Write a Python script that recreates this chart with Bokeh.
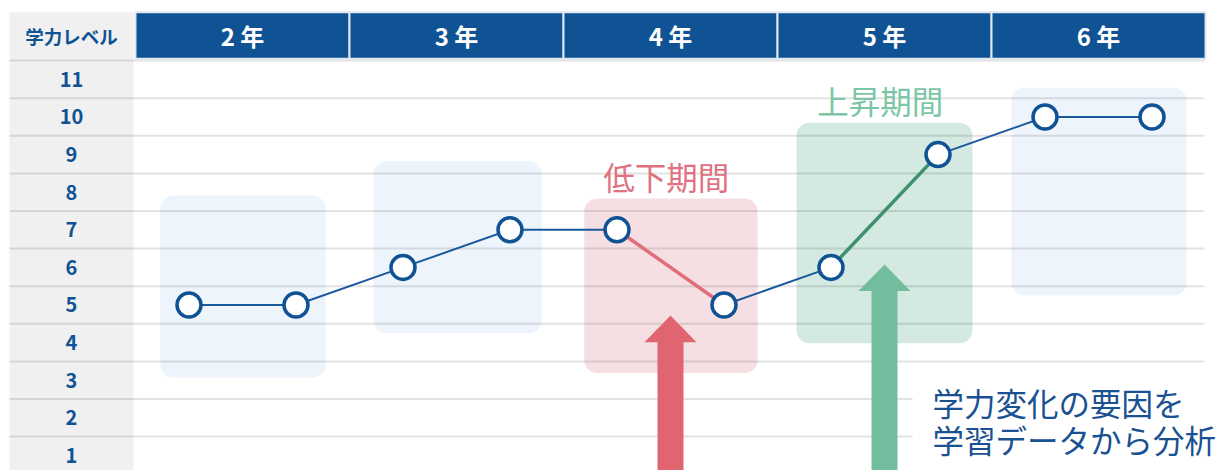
from bokeh.plotting import figure
from bokeh.models import Range1d, BoxAnnotation
from bokeh.core.properties import value
from bokeh.embed import file_html
from bokeh.resources import INLINE

# ---------------- data ----------------
grades = ["2 年", "3 年", "4 年", "5 年", "6 年"]
level_ticks = [1, 2, 3, 4, 5, 6, 7, 8, 9, 10, 11]
level_header = "学力レベル"
points_grade = ["2 年", "2 年", "3 年", "3 年", "4 年", "4 年", "5 年", "5 年", "6 年", "6 年"]
points_half = ["前期", "後期", "前期", "後期", "前期", "後期", "前期", "後期", "前期", "後期"]
points_level = [5, 5, 6, 7, 7, 5, 6, 9, 10, 10]
decline_grade = "4 年"
decline_label = "低下期間"
rise_grade = "5 年"
rise_label = "上昇期間"
note_lines = ["学力変化の要因を", "学習データから分析"]

# ---------------- layout / style ----------------
FONT = value("Noto Sans CJK JP")
BLUE = "#0f5395"
LINE_BLUE = "#1a5a9c"
PINK_BOX = "#f6dfe3"
GREEN_BOX = "#d3e9e2"
LIGHT_BOX = "#edf4fb"
PINK_ARROW = "#e06571"
GREEN_ARROW = "#72bd9e"
PINK_TEXT = "#e07280"
GREEN_TEXT = "#7cc5a5"
PINK_LINE = "#e06f7b"
GREEN_LINE = "#3f916d"

# box extents per grade (level units): bottom, top, half-width
box_bottom = [3.07, 4.25, 3.19, 3.98, 5.25]
box_top = [7.91, 8.82, 7.83, 9.85, 10.78]
box_half = [0.386, 0.393, 0.405, 0.411, 0.409]
box_shift = [0.002, 0.005, 0.002, 0.0, 0.002]

X0, X1 = -0.6308, 5.0794
Y0, Y1 = 0.5984, 13.0984
HEAD_BOTTOM, HEAD_TOP = 11.548, 12.787
COL_LEFT, COL_RIGHT = -0.5888, -0.0093
GRID_RIGHT = 4.995

p = figure(width=1222, height=470, x_range=Range1d(X0, X1), y_range=Range1d(Y0, Y1),
           output_backend="svg", toolbar_location=None, min_border=0,
           x_axis_location=None, y_axis_location=None)
p.grid.visible = False
p.outline_line_color = None
p.background_fill_color = "white"
p.border_fill_color = "white"

def gx(g):
    return grades.index(g)

px = [gx(g) + (0.25 if h == "前期" else 0.75) for g, h in zip(points_grade, points_half)]

# grade boxes (underlay)
for i, g in enumerate(grades):
    color = PINK_BOX if g == decline_grade else GREEN_BOX if g == rise_grade else LIGHT_BOX
    c = i + 0.5 + box_shift[i]
    p.add_layout(BoxAnnotation(left=c - box_half[i], right=c + box_half[i],
                               bottom=box_bottom[i], top=box_top[i],
                               fill_color=color, fill_alpha=1.0, line_color=None,
                               border_radius=13, level="underlay"))

# left gray column
p.quad(left=[COL_LEFT], right=[COL_RIGHT], bottom=[Y0 - 1], top=[HEAD_TOP],
       fill_color="#f0f0f0", line_color=None)

# grid lines between levels
grid_y = [l + 0.5 for l in level_ticks]
p.segment(x0=[COL_LEFT] * len(grid_y), x1=[GRID_RIGHT] * len(grid_y), y0=grid_y, y1=grid_y,
          line_color="black", line_alpha=0.11, line_width=2)

# level labels
p.text(x=[(COL_LEFT + COL_RIGHT) / 2] * len(level_ticks), y=level_ticks,
       text=[str(l) for l in level_ticks], text_font=FONT, text_font_size="20px",
       text_font_style="bold", text_color=BLUE, text_align="center", text_baseline="middle")
p.text(x=[(COL_LEFT + COL_RIGHT) / 2], y=[(HEAD_BOTTOM + HEAD_TOP) / 2], text=[level_header],
       text_font=FONT, text_font_size="18.5px", text_font_style="bold", text_color=BLUE,
       text_align="center", text_baseline="middle")

# header
p.quad(left=[i for i in range(len(grades))], right=[i + 1 for i in range(len(grades))],
       bottom=[HEAD_BOTTOM] * len(grades), top=[HEAD_TOP] * len(grades),
       fill_color=BLUE, line_color="#dfe8f2", line_width=2)
p.text(x=[i + 0.5 for i in range(len(grades))], y=[(HEAD_BOTTOM + HEAD_TOP) / 2] * len(grades),
       text=grades, text_font=FONT, text_font_size="24px", text_font_style="bold",
       text_color="white", text_align="center", text_baseline="middle")

# arrows
def arrow(cx, tip, head_h=0.71, head_w=0.1215, shaft_w=0.0607, bottom=0.3):
    xs = [cx, cx + head_w, cx + shaft_w, cx + shaft_w, cx - shaft_w, cx - shaft_w, cx - head_w]
    ys = [tip, tip - head_h, tip - head_h, bottom, bottom, tip - head_h, tip - head_h]
    return xs, ys

ax1, ay1 = arrow(gx(decline_grade) + 0.5, 4.72)
ax2, ay2 = arrow(gx(rise_grade) + 0.5, 6.08)
p.patches(xs=[ax1, ax2], ys=[ay1, ay2], fill_color=[PINK_ARROW, GREEN_ARROW], line_color=None)

# white area behind the note
p.quad(left=[3.631], right=[X1 + 1], bottom=[Y0 - 1], top=[3.31], fill_color="white", line_color=None)

# main line
p.line(x=px, y=points_level, line_color=LINE_BLUE, line_width=2)
for g, col in [(decline_grade, PINK_LINE), (rise_grade, GREEN_LINE)]:
    idx = [k for k, pg in enumerate(points_grade) if pg == g]
    p.line(x=[px[k] for k in idx], y=[points_level[k] for k in idx], line_color=col, line_width=3.5)

p.scatter(x=px, y=points_level, size=24, marker="circle", fill_color="white",
          line_color=BLUE, line_width=3.5)

# period labels
for g, lab, col in [(decline_grade, decline_label, PINK_TEXT), (rise_grade, rise_label, GREEN_TEXT)]:
    i = gx(g)
    p.text(x=[i + 0.48], y=[box_top[i] + 0.6], text=[lab], text_font=FONT, text_font_size="31.5px",
           text_color=col, text_align="center", text_baseline="middle")

# note
p.text(x=[3.724, 3.724], y=[2.407, 1.449], text=note_lines, text_font=FONT, text_font_size="31.5px",
       text_color="#1a5192", text_align="left", text_baseline="middle")

open("out.html", "w").write(file_html(p, INLINE))
